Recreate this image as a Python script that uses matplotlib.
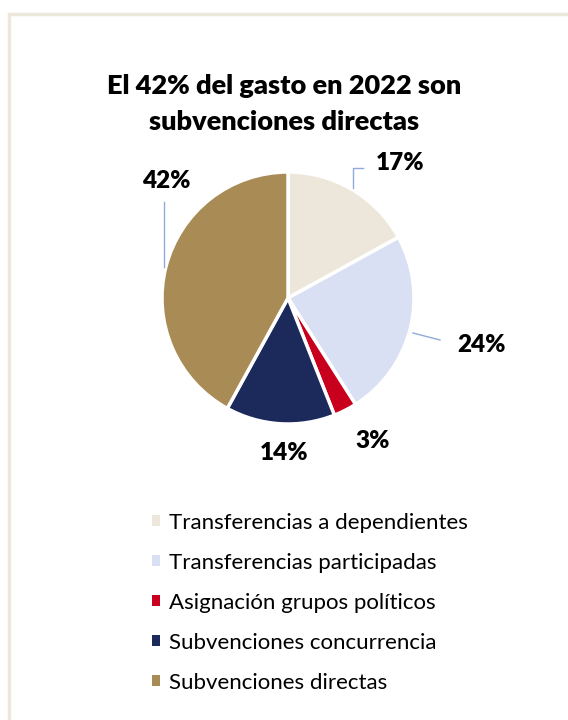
import matplotlib
matplotlib.use("Agg")
import matplotlib.pyplot as plt
from matplotlib.patches import Patch, Rectangle

categories = ["Transferencias a dependientes", "Transferencias participadas",
              "Asignación grupos políticos", "Subvenciones concurrencia",
              "Subvenciones directas"]
values = [17, 24, 3, 14, 42]
labels = ["17%", "24%", "3%", "14%", "42%"]
colors = ["#EDE7DB", "#DAE0F3", "#C8001E", "#1B2A5A", "#A98B55"]
title = "El 42% del gasto en 2022 son\nsubvenciones directas"

plt.rcParams['font.family'] = ['Lato', 'DejaVu Sans']

W, H = 568, 720
fig = plt.figure(figsize=(W / 100, H / 100), dpi=100)

# outer border
fig.patches.append(Rectangle((9 / W, -0.01), 1.2, (H - 14) / H + 0.01,
                             transform=fig.transFigure, fill=False,
                             edgecolor="#EDE8DC", linewidth=2.5))

cx, cy, r = 288, 298, 126
ax = fig.add_axes([(cx - r) / W, (H - cy - r) / H, 2 * r / W, 2 * r / H])
ax.pie(values, colors=colors, startangle=90, counterclock=False,
       wedgeprops=dict(edgecolor="white", linewidth=2.5), radius=1)
ax.set_xlim(-1, 1)
ax.set_ylim(-1, 1)
ax.set_aspect("equal")
ax.axis("off")


def d(px, py):
    return ((px - cx) / r, (cy - py) / r)


label_pos = [(400, 163), (481, 345), (373, 441), (284, 453), (166, 181)]
for lab, (px, py) in zip(labels, label_pos):
    x, y = d(px, py)
    ax.text(x, y, lab, ha="center", va="center", fontsize=17.5,
            fontweight="heavy", color="black", clip_on=False)

leaders = [
    [(353, 188), (353, 168), (363, 168)],
    [(413, 333), (440, 340)],
    [(164, 267), (164, 202)],
]
for pts in leaders:
    xs, ys = zip(*[d(px, py) for px, py in pts])
    ax.plot(xs, ys, color="#8FAADC", linewidth=1, clip_on=False)

fig.text(0.5, (H - 104) / H, title, ha="center", va="center",
         fontsize=19.5, fontweight="heavy", linespacing=1.6)

handles = [Patch(facecolor=c, edgecolor="none") for c in colors]
fig.legend(handles, categories, loc="upper left",
           bbox_to_anchor=(143 / W, (H - 504) / H), frameon=False,
           fontsize=16, handlelength=0.38, handleheight=0.38,
           handletextpad=0.4, labelspacing=0.9, borderaxespad=0)

fig.savefig("out.png", dpi=100, facecolor="white")
